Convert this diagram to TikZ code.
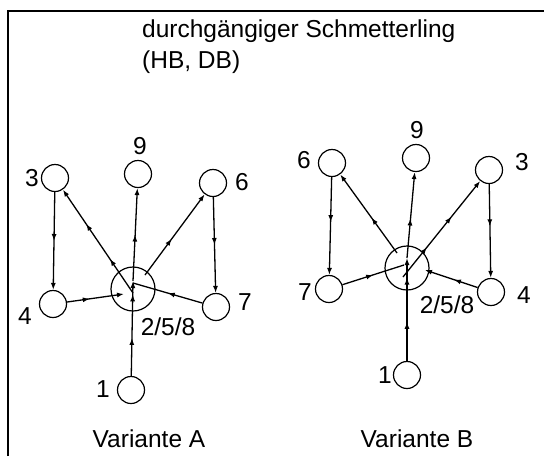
\documentclass[tikz,border=0pt]{standalone}
\usepackage{fontspec}
\setmainfont{Liberation Sans}
\usetikzlibrary{arrows.meta,decorations.markings}
\begin{document}
\begin{tikzpicture}[x=1pt,y=-1pt,
    knot/.style={draw,circle,line width=1.2pt,minimum size=27pt,inner sep=0pt},
    hub/.style={draw,circle,line width=1.2pt,minimum size=44pt,inner sep=0pt},
    lbl/.style={font=\fontsize{24.5}{29}\selectfont,inner sep=0pt},
    conn/.style={line width=1.3pt},
    head/.style={-{Latex[length=7pt,width=5pt]}},
    midarr/.style={postaction={decorate},decoration={markings,
        mark=at position #1 with {\arrow{Latex[length=7pt,width=5pt]}}}},
    midtwo/.style 2 args={postaction={decorate},decoration={markings,
        mark=at position #1 with {\arrow{Latex[length=7pt,width=5pt]}},
        mark=at position #2 with {\arrow{Latex[length=7pt,width=5pt]}}}}]
    \useasboundingbox (0,0) rectangle (544,456);
    \draw[line width=2.5pt] (8,456) -- (8,11) -- (544,11);
    \node[lbl,anchor=base west] (title) at (142,37) {durchgängiger Schmetterling};
    \node[lbl,anchor=base west] (subtitle) at (142,68) {(HB, DB)};

    \node[knot] (a3) at (55,178) {};
    \node[knot] (a9) at (138,174) {};
    \node[knot] (a6) at (213,183) {};
    \node[knot] (a4) at (53,304) {};
    \node[hub] (aC) at (133,289) {};
    \node[knot] (a7) at (216,307) {};
    \node[knot] (a1) at (131,390) {};
    \node[lbl] (la3) at (32,178) {3};
    \node[lbl] (la9) at (140,146) {9};
    \node[lbl] (la6) at (242,182) {6};
    \node[lbl] (la4) at (25,316) {4};
    \node[lbl] (la7) at (245,302) {7};
    \node[lbl] (laC) at (168,327) {2/5/8};
    \node[lbl] (la1) at (103,389) {1};
    \node[lbl] (varA) at (149,439) {Variante A};
    \coordinate (aIn4) at (124,294);
    \coordinate (aIn7) at (133,283);
    \coordinate (aIn1) at (133,281);
    \coordinate (aOut3) at (133,293);
    \coordinate (aOut6) at (145,275);
    \draw[conn,head,midarr=0.5] (a3) -- (a4);
    \draw[conn,head,midarr=0.5] (a6) -- (a7);
    \draw[conn,head,midarr=0.4] (a4) -- (aIn4);
    \draw[conn,midarr=0.5] (a7) -- (aIn7);
    \draw[conn,head,midtwo={0.4}{0.86}] (a1) -- (aIn1);
    \draw[conn,head,midtwo={0.33}{0.67}] (aOut3) -- (a3);
    \draw[conn,head,midarr=0.5] (aIn1) -- (a9);
    \draw[conn,head,midarr=0.45] (aOut6) -- (a6);

    \node[knot] (b6) at (332,163) {};
    \node[knot] (b9) at (416,158) {};
    \node[knot] (b3) at (489,170) {};
    \node[knot] (b7) at (329,289) {};
    \node[hub] (bC) at (407,268) {};
    \node[knot] (b4) at (491,292) {};
    \node[knot] (b1) at (407,375) {};
    \node[lbl] (lb6) at (304,160) {6};
    \node[lbl] (lb9) at (417,130) {9};
    \node[lbl] (lb3) at (522,162) {3};
    \node[lbl] (lb7) at (305,292) {7};
    \node[lbl] (lb4) at (524,295) {4};
    \node[lbl] (lbC) at (447,305) {2/5/8};
    \node[lbl] (lb1) at (385,375) {1};
    \node[lbl] (varB) at (417,439) {Variante B};
    \coordinate (bIn7) at (404,265);
    \coordinate (bIn4) at (425,270);
    \coordinate (bIn1) at (407,258);
    \coordinate (bOut3) at (403,277);
    \coordinate (bOut6) at (397,253);
    \draw[conn,head,midarr=0.46] (b6) -- (b7);
    \draw[conn,head,midarr=0.45] (b3) -- (b4);
    \draw[conn,midarr=0.5] (b7) -- (bIn7);
    \draw[conn,head,midarr=0.45] (b4) -- (bIn4);
    \draw[conn,head,midtwo={0.38}{0.81}] (b1) -- (bIn1);
    \draw[conn,head,midarr=0.46] (bIn1) -- (b9);
    \draw[conn,head,midarr=0.45] (bOut6) -- (b6);
    \draw[conn,head,midtwo={0.31}{0.63}] (bOut3) -- (b3);
\end{tikzpicture}
\end{document}
